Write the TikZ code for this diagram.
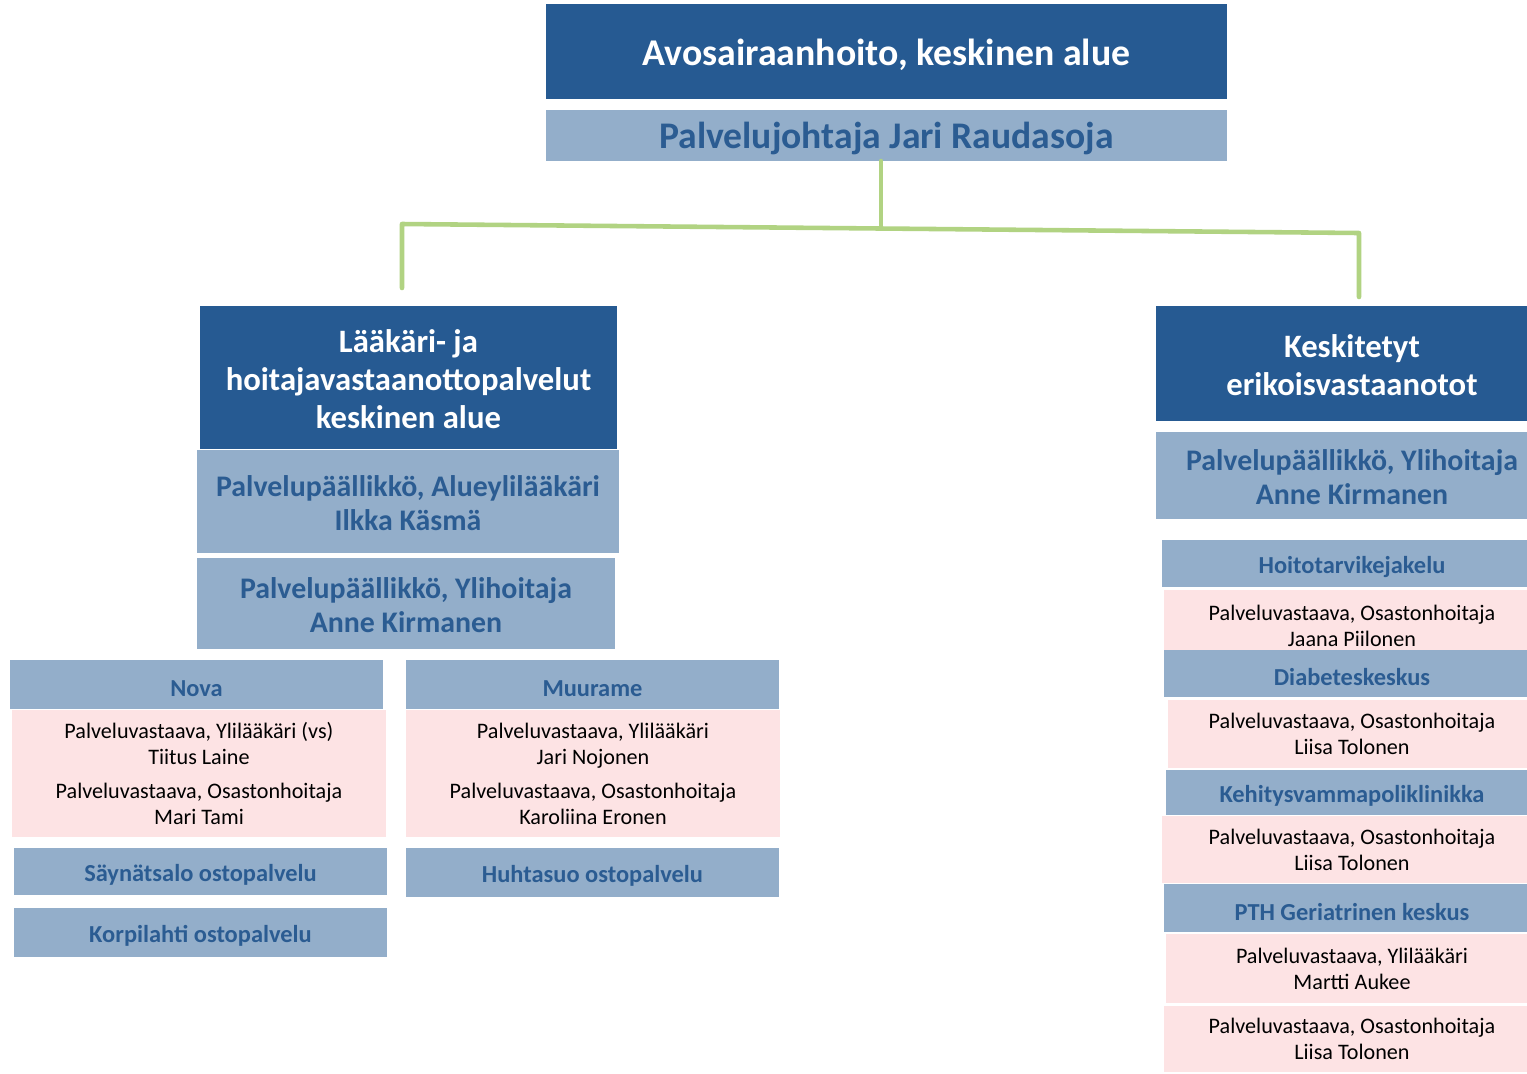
\documentclass[tikz,border=0pt]{standalone}
\usepackage{fontspec}
\setmainfont{Carlito}
\definecolor{darkblue}{HTML}{265A92}
\definecolor{lightblue}{HTML}{93AECA}
\definecolor{headtext}{HTML}{2B5C92}
\definecolor{rosepink}{HTML}{FDE3E4}
\definecolor{linegreen}{HTML}{B1D382}
\newcommand{\liftline}{\rule{0pt}{0.82em}}
\begin{document}
\begin{tikzpicture}[
                    x=0.02cm, y=-0.02cm,
                    box/.style={anchor=north west, inner sep=0pt, outer sep=0pt, align=center},
                    lift/.style={execute at begin node={\rule{0pt}{#1}}},
                    unit/.style={box, fill=darkblue, text=white, font=\bfseries\fontsize{18.6}{21.6}\selectfont},
                    chief/.style={box, fill=lightblue, text=headtext, font=\bfseries\fontsize{17}{19.3}\selectfont},
                    site/.style={box, lift=1.0em, fill=lightblue, text=headtext, font=\bfseries\fontsize{13.9}{16}\selectfont},
                    staff/.style={box, fill=rosepink, text=black, font=\fontsize{12.6}{14.8}\selectfont},
                    link/.style={draw=linegreen, line width=2.6pt, line cap=round, line join=round}
                ]
                \useasboundingbox (0,0) rectangle (1527,1073);

                % Blocks
                \node [unit, lift=0.88em, font=\bfseries\fontsize{21.5}{25}\selectfont, minimum width=13.62cm, minimum height=1.90cm] (top) at (546,4) {Avosairaanhoito, keskinen alue};
                \node [chief, lift=0.88em, font=\bfseries\fontsize{21.4}{25}\selectfont, minimum width=13.62cm, minimum height=1.02cm] (jari) at (546,110) {Palvelujohtaja Jari Raudasoja};

                % left branch
                \node [unit, minimum width=8.34cm, minimum height=2.86cm] (clinic) at (200,306) {\liftline Lääkäri- ja\\hoitajavastaanottopalvelut\\keskinen alue};
                \node [chief, minimum width=8.44cm, minimum height=2.06cm] (clinicdoc) at (197,450) {\liftline Palvelupäällikkö, Alueylilääkäri\\Ilkka Käsmä};
                \node [chief, minimum width=8.36cm, minimum height=1.82cm] (clinicnurse) at (197,558) {\liftline Palvelupäällikkö, Ylihoitaja\\Anne Kirmanen};

                \node [site, minimum width=7.46cm, minimum height=0.98cm] (nova) at (10,660) {Nova};
                \node [staff, minimum width=7.48cm, minimum height=2.54cm] (novastaff) at (12,710) {Palveluvastaava, Ylilääkäri (vs)\\Tiitus Laine\\[4.5pt]Palveluvastaava, Osastonhoitaja\\Mari Tami};
                \node [site, minimum width=7.46cm, minimum height=0.94cm] (saynatsalo) at (14,848) {Säynätsalo ostopalvelu};
                \node [site, minimum width=7.46cm, minimum height=0.98cm] (korpilahti) at (14,908) {Korpilahti ostopalvelu};

                \node [site, minimum width=7.46cm, minimum height=0.98cm] (muurame) at (406,660) {Muurame};
                \node [staff, minimum width=7.48cm, minimum height=2.54cm] (muuramestaff) at (406,710) {Palveluvastaava, Ylilääkäri\\Jari Nojonen\\[4.5pt]Palveluvastaava, Osastonhoitaja\\Karoliina Eronen};
                \node [site, minimum width=7.46cm, minimum height=0.98cm] (huhtasuo) at (406,848) {Huhtasuo ostopalvelu};

                % right branch
                \node [unit, minimum width=7.84cm, minimum height=2.30cm] (special) at (1156,306) {\liftline Keskitetyt\\erikoisvastaanotot};
                \node [chief, minimum width=7.84cm, minimum height=1.74cm] (specialnurse) at (1156,432) {\liftline Palvelupäällikkö, Ylihoitaja\\Anne Kirmanen};

                \node [site, minimum width=7.60cm, minimum height=0.94cm] (supply) at (1162,540) {Hoitotarvikejakelu};
                \node [staff, minimum width=7.52cm, minimum height=1.44cm] (supplystaff) at (1164,590) {Palveluvastaava, Osastonhoitaja\\Jaana Piilonen};
                \node [site, minimum width=7.52cm, minimum height=0.94cm] (diabetes) at (1164,650) {Diabeteskeskus};
                \node [staff, minimum width=7.36cm, minimum height=1.36cm] (diabetesstaff) at (1168,700) {Palveluvastaava, Osastonhoitaja\\Liisa Tolonen};
                \node [site, minimum width=7.44cm, minimum height=0.90cm] (develop) at (1166,770) {Kehitysvammapoliklinikka};
                \node [staff, minimum width=7.60cm, minimum height=1.34cm] (developstaff) at (1162,816) {Palveluvastaava, Osastonhoitaja\\Liisa Tolonen};
                \node [site, minimum width=7.52cm, minimum height=0.96cm] (geriatric) at (1164,884) {PTH Geriatrinen keskus};
                \node [staff, minimum width=7.44cm, minimum height=1.38cm] (geriatricdoc) at (1166,934) {Palveluvastaava, Ylilääkäri\\Martti Aukee};
                \node [staff, minimum width=7.52cm, minimum height=1.32cm] (geriatricnurse) at (1164,1006) {Palveluvastaava, Osastonhoitaja\\Liisa Tolonen};

                % Connections
                \coordinate (barM) at (881,228);
                \coordinate (barL) at (402,224);
                \coordinate (barR) at (1359,233);
                \coordinate (legL) at (402,288);
                \coordinate (legR) at (1359,297);
                \draw [link] (barM |- jari.south) -- (barM);
                \draw [link] (legL) -- (barL) -- (barR) -- (legR);
            \end{tikzpicture}
\end{document}
